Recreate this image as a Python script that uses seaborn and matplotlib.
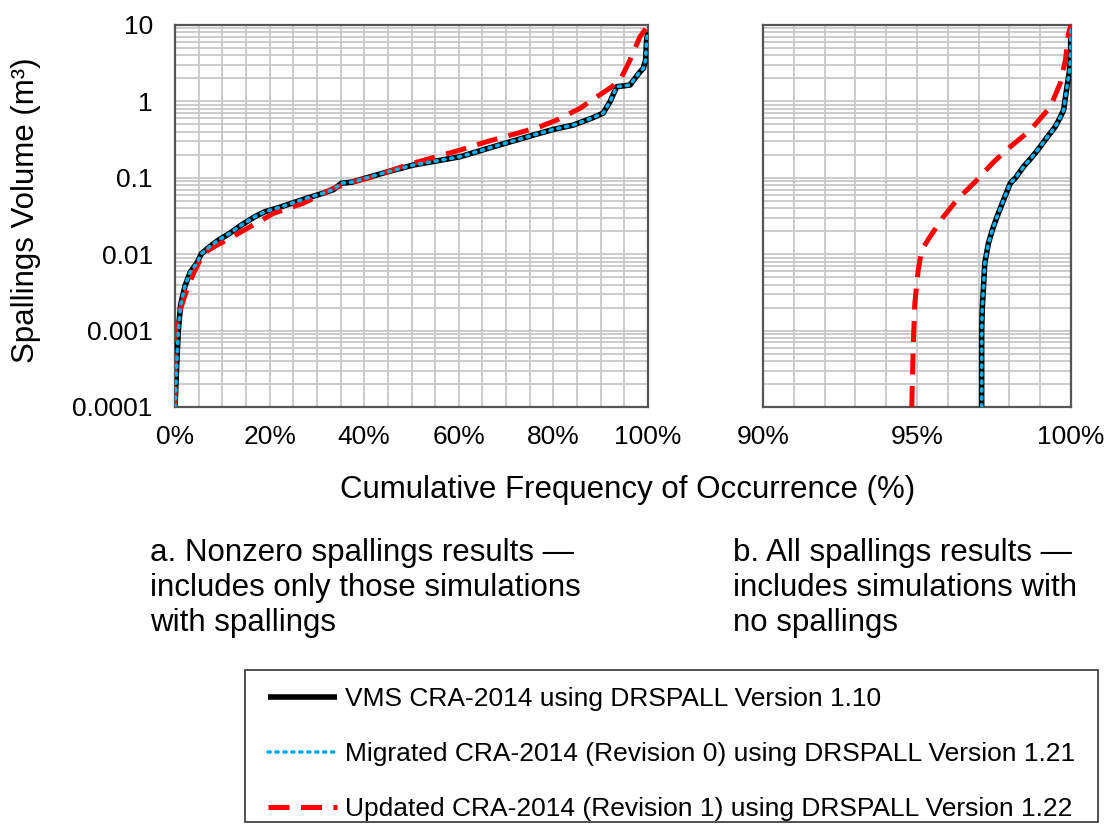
import numpy as np
import pandas as pd
import seaborn as sns
import matplotlib.pyplot as plt
from matplotlib.lines import Line2D
from matplotlib.patches import Rectangle
from matplotlib.ticker import LogLocator, MultipleLocator, NullFormatter

sns.set_theme(style="white")
plt.rcParams['font.family'] = ['Liberation Sans', 'DejaVu Sans']
plt.rcParams['text.color'] = 'black'

# ---- Panel a: nonzero spallings results (cumulative %, volume m^3) ----
vms_a_pct = [0, 0.4, 0.7, 1.2, 2.1, 3.2, 4.6, 5.6, 7.5, 9.2, 11.6, 14.0, 16.9, 19.0,
             21.5, 24.5, 27.8, 31.0, 33.5, 35.2, 37.5, 40.5, 45.0, 50.4, 55.0, 60.3,
             67.3, 75.8, 80.0, 84.2, 88.0, 90.5, 92.0, 93.4, 95.0, 96.2, 97.5, 98.3,
             99.0, 99.5, 99.7, 100]
vms_a_vol = [0.0001, 0.0004, 0.001, 0.0022, 0.0038, 0.0058, 0.0076, 0.0102, 0.0128,
             0.0153, 0.0188, 0.024, 0.031, 0.036, 0.040, 0.046, 0.054, 0.062, 0.070,
             0.085, 0.088, 0.100, 0.120, 0.147, 0.165, 0.189, 0.255, 0.363, 0.43,
             0.49, 0.60, 0.70, 1.0, 1.56, 1.60, 1.64, 2.1, 2.43, 2.7, 3.5, 6.4, 8.0]

mig_a_pct = list(vms_a_pct)
mig_a_vol = list(vms_a_vol)

upd_a_pct = [0, 0, 0.3, 1.1, 2.5, 3.9, 6.0, 8.5, 10.9, 15.9, 20.8, 27.1, 33.5, 37.5,
             41.9, 49.0, 55.3, 60.3, 65.9, 72.2, 77.2, 80.7, 85.6, 89.2, 92.0, 94.1,
             96.2, 98.3, 99.7, 100]
upd_a_vol = [0.0001, 0.00083, 0.0013, 0.00186, 0.0034, 0.0056, 0.0102, 0.0128, 0.0153,
             0.0229, 0.0342, 0.0464, 0.073, 0.088, 0.103, 0.147, 0.189, 0.231, 0.297,
             0.38, 0.467, 0.57, 0.81, 1.15, 1.5, 1.9, 3.48, 7.0, 9.3, 10]

# ---- Panel b: all spallings results, including zero-volume simulations ----
vms_b_pct = [97.1, 97.1, 97.12, 97.16, 97.2, 97.32, 97.45, 97.6, 97.8, 98.03, 98.2,
             98.46, 98.75, 99.0, 99.25, 99.49, 99.65, 99.76, 99.87, 99.95, 99.98, 100]
vms_b_vol = [0.0001, 0.001, 0.002, 0.0038, 0.0076, 0.0139, 0.021, 0.031, 0.05, 0.085,
             0.10, 0.14, 0.19, 0.255, 0.35, 0.467, 0.62, 0.77, 1.57, 2.5, 3.48, 9.3]

mig_b_pct = list(vms_b_pct)
mig_b_vol = list(vms_b_vol)

upd_b_pct = [94.83, 94.88, 94.93, 95.04, 95.15, 95.42, 95.86, 96.29, 96.94, 97.48,
             98.03, 98.68, 99.33, 99.65, 99.82, 99.92, 100]
upd_b_vol = [0.0001, 0.00068, 0.0023, 0.0062, 0.0113, 0.0169, 0.031, 0.051, 0.093,
             0.16, 0.255, 0.42, 0.85, 1.73, 3.48, 7.8, 10]

series_labels = [
    "VMS CRA-2014 using DRSPALL Version 1.10",
    "Migrated CRA-2014 (Revision 0) using DRSPALL Version 1.21",
    "Updated CRA-2014 (Revision 1) using DRSPALL Version 1.22",
]
y_tick_values = [0.0001, 0.001, 0.01, 0.1, 1, 10]
y_tick_labels = ["0.0001", "0.001", "0.01", "0.1", "1", "10"]

BLACK = "black"
BLUE = "#00B0F0"
RED = "#FF0000"
GRID = "#C8C8C8"
SPINE = "#555555"

vms_style = dict(color=BLACK, linewidth=4.0, solid_capstyle="butt")
mig_style = dict(color=BLUE, linewidth=2.6, linestyle=(0, (0.6, 1.6)),
                 dash_capstyle="round")
upd_style = dict(color=RED, linewidth=3.6, linestyle=(0, (4.2, 2.3)),
                 dash_capstyle="butt")

W, H = 1106, 830
fig = plt.figure(figsize=(W / 100, H / 100), dpi=100)
ax_a = fig.add_axes([175 / W, 1 - 407 / H, 473 / W, 382 / H])
ax_b = fig.add_axes([763 / W, 1 - 407 / H, 308 / W, 382 / H])


def draw_panel(ax, vms, mig, upd):
    sns.lineplot(x=vms[0], y=vms[1], ax=ax, estimator=None, sort=False,
                 zorder=3, **vms_style)
    sns.lineplot(x=upd[0], y=upd[1], ax=ax, estimator=None, sort=False,
                 zorder=4, **upd_style)
    sns.lineplot(x=mig[0], y=mig[1], ax=ax, estimator=None, sort=False,
                 zorder=5, **mig_style)
    ax.set_yscale("log")
    ax.set_ylim(0.0001, 10)
    ax.yaxis.set_major_locator(LogLocator(base=10))
    ax.yaxis.set_minor_locator(LogLocator(base=10, subs=np.arange(2, 10)))
    ax.yaxis.set_minor_formatter(NullFormatter())
    ax.set_axisbelow(True)
    ax.grid(which="both", axis="both", color=GRID, linewidth=1.3)
    for s in ax.spines.values():
        s.set_color(SPINE)
        s.set_linewidth(1.6)
    ax.set_xlabel("")
    ax.set_ylabel("")
    ax.tick_params(which="major", direction="in", length=7, width=1.3,
                   color=SPINE, labelsize=19, labelcolor="black")
    ax.tick_params(which="minor", length=0)
    ax.tick_params(axis="x", pad=13)
    ax.tick_params(axis="y", pad=16)


draw_panel(ax_a, (vms_a_pct, vms_a_vol), (mig_a_pct, mig_a_vol), (upd_a_pct, upd_a_vol))
draw_panel(ax_b, (vms_b_pct, vms_b_vol), (mig_b_pct, mig_b_vol), (upd_b_pct, upd_b_vol))

ax_a.set_xlim(0, 100)
ax_a.xaxis.set_minor_locator(MultipleLocator(5))
ax_a.set_xticks([0, 20, 40, 60, 80, 100])
ax_a.set_xticklabels(["0%", "20%", "40%", "60%", "80%", "100%"])
ax_a.set_xlim(0, 100)
ax_a.set_yticks(y_tick_values)
ax_a.set_yticklabels(y_tick_labels)
ax_a.set_ylim(0.0001, 10)

ax_b.set_xlim(90, 100)
ax_b.xaxis.set_minor_locator(MultipleLocator(1))
ax_b.set_xticks([90, 95, 100])
ax_b.set_xticklabels(["90%", "95%", "100%"])
ax_b.set_xlim(90, 100)
ax_b.set_yticks(y_tick_values)
ax_b.set_yticklabels([])
ax_b.tick_params(axis="y", which="major", length=0)
ax_b.set_ylim(0.0001, 10)

# Axis titles and panel captions
fig.text(26 / W, 1 - 210 / H, "Spallings Volume (m\u00b3)", rotation=90,
         ha="center", va="center", fontsize=22.5)
fig.text(628 / W, 1 - 490 / H, "Cumulative Frequency of Occurrence (%)",
         ha="center", va="center", fontsize=22.5)
fig.text(150 / W, 1 - 538 / H,
         "a. Nonzero spallings results \u2014\nincludes only those simulations\nwith spallings",
         ha="left", va="top", fontsize=22.5, linespacing=1.22)
fig.text(733 / W, 1 - 538 / H,
         "b. All spallings results \u2014\nincludes simulations with\nno spallings",
         ha="left", va="top", fontsize=22.5, linespacing=1.22)

# Legend: entries placed without their own frame, boxed by a plain rectangle
handles = [
    Line2D([], [], **vms_style),
    Line2D([], [], **mig_style),
    Line2D([], [], **upd_style),
]
leg = fig.legend(handles, series_labels, loc="upper left",
                 bbox_to_anchor=(268 / W, 1 - 687 / H), fontsize=19,
                 frameon=False, handlelength=2.6, handletextpad=0.3,
                 labelspacing=1.17, borderpad=0, borderaxespad=0)
for t in leg.get_texts():
    t.set_color("black")
fig.patches.append(Rectangle((245 / W, 1 - 822 / H), (1098 - 245) / W, (822 - 670) / H,
                             transform=fig.transFigure, fill=False,
                             edgecolor="#333333", linewidth=1.2))

fig.savefig("out.png", dpi=100, facecolor="white")
